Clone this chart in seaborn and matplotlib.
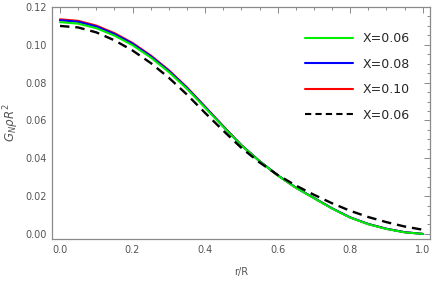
import numpy as np
import pandas as pd
import seaborn as sns
import matplotlib.pyplot as plt
from matplotlib.ticker import MultipleLocator
from matplotlib.lines import Line2D

# values, r/R from 0 to 1 in steps of 0.05
r = [0.00, 0.05, 0.10, 0.15, 0.20, 0.25, 0.30, 0.35, 0.40, 0.45, 0.50,
     0.55, 0.60, 0.65, 0.70, 0.75, 0.80, 0.85, 0.90, 0.95, 1.00]
g_006 = [0.1120, 0.1112, 0.1088, 0.1049, 0.0998, 0.0933, 0.0856, 0.0767, 0.0667, 0.0566, 0.0468,
         0.0384, 0.0309, 0.0244, 0.0189, 0.0134, 0.0086, 0.0051, 0.0026, 0.0008, 0.0000]
g_008 = [0.1130, 0.1122, 0.1097, 0.1057, 0.1006, 0.0940, 0.0862, 0.0772, 0.0671, 0.0568, 0.0469,
         0.0385, 0.0310, 0.0245, 0.0190, 0.0135, 0.0087, 0.0052, 0.0027, 0.0009, 0.0000]
g_010 = [0.1135, 0.1127, 0.1102, 0.1062, 0.1010, 0.0944, 0.0866, 0.0775, 0.0673, 0.0570, 0.0470,
         0.0385, 0.0310, 0.0245, 0.0190, 0.0135, 0.0087, 0.0052, 0.0027, 0.0009, 0.0000]
g_006b = [0.1100, 0.1092, 0.1066, 0.1024, 0.0970, 0.0904, 0.0826, 0.0737, 0.0640, 0.0546, 0.0455,
          0.0378, 0.0312, 0.0256, 0.0207, 0.0162, 0.0122, 0.0089, 0.0062, 0.0039, 0.0022]
labels = ['X=0.06', 'X=0.08', 'X=0.10', 'X=0.06']

sns.set_style('white')
plt.rcParams['font.family'] = ['DejaVu Sans']
plt.rcParams['mathtext.fontset'] = 'dejavusans'

fig = plt.figure(figsize=(4.36, 2.81), dpi=100)
ax = fig.add_axes([0.1193, 0.1495, 0.8670, 0.8255])

gray = '#8a8a8a'
sns.lineplot(x=r, y=g_010, ax=ax, color='#ff0000', lw=1.5)
sns.lineplot(x=r, y=g_008, ax=ax, color='#0000ff', lw=1.5)
sns.lineplot(x=r, y=g_006, ax=ax, color='#00ee00', lw=1.5)
sns.lineplot(x=r, y=g_006b, ax=ax, color='black', lw=1.7)
ax.lines[-1].set_dashes([4, 2.5])

# legend in the reference order
handles = [Line2D([], [], color='#00ee00', lw=1.5),
           Line2D([], [], color='#0000ff', lw=1.5),
           Line2D([], [], color='#ff0000', lw=1.5),
           Line2D([], [], color='black', lw=1.5, dashes=[3, 2])]
ax.legend(handles, labels, loc='upper left', bbox_to_anchor=(0.64, 0.94), frameon=False,
          fontsize=9, handlelength=3.85, handletextpad=0.72, labelspacing=1.0)

ax.set_xlim(-0.022, 1.02)
ax.set_ylim(-0.0027, 0.12)
ax.xaxis.set_major_locator(MultipleLocator(0.2))
ax.xaxis.set_minor_locator(MultipleLocator(0.05))
ax.yaxis.set_major_locator(MultipleLocator(0.02))
ax.yaxis.set_minor_locator(MultipleLocator(0.005))
ax.xaxis.set_major_formatter(plt.FuncFormatter(lambda v, p: f'{v:.1f}'))
ax.yaxis.set_major_formatter(plt.FuncFormatter(lambda v, p: f'{v:.2f}'))

for s in ax.spines.values():
    s.set_color(gray)
    s.set_linewidth(0.9)
ax.tick_params(which='both', direction='in', top=True, right=True, color=gray,
               labelcolor='#555555', labelsize=7, width=0.7)
ax.tick_params(which='major', length=4, pad=4)
ax.tick_params(which='minor', length=2.2)

ax.set_xlabel('r/R', color='#555555', fontsize=7, labelpad=9)
ax.set_ylabel(r'$G_N\rho R^2$', color='#555555', fontsize=8.5, labelpad=3)

fig.savefig('out.png', dpi=100)
